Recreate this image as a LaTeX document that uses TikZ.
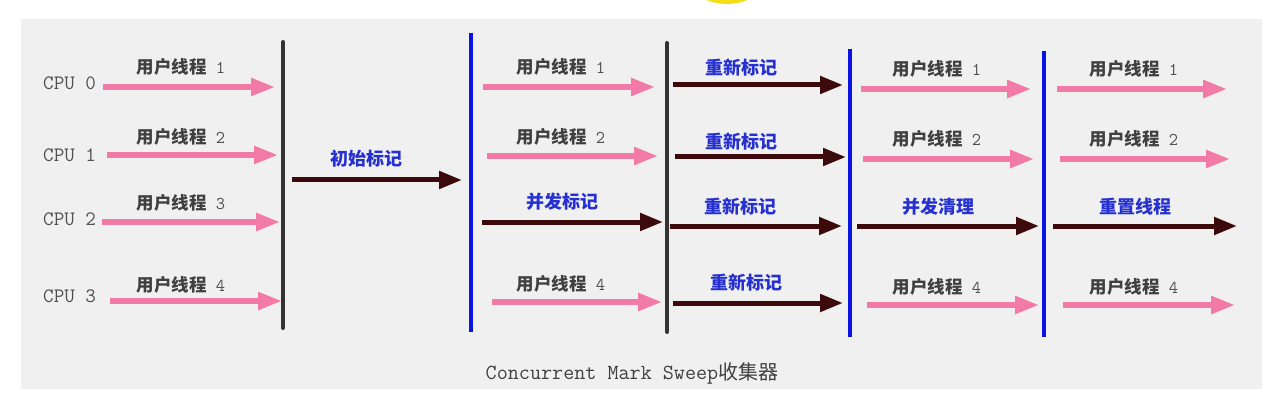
\documentclass[tikz,border=0pt]{standalone}
\usepackage{fontspec}
\usetikzlibrary{arrows.meta}
\newfontfamily\cjk{Noto Sans CJK SC}
\newfontfamily\mono{Latin Modern Mono}
\definecolor{bgc}{HTML}{EFF0EF}
\definecolor{pinkc}{HTML}{F27AA6}
\definecolor{darkc}{HTML}{3C0A0A}
\definecolor{barg}{HTML}{333333}
\definecolor{barb}{HTML}{0A14E0}
\definecolor{labc}{HTML}{404040}
\definecolor{digc}{HTML}{505050}
\definecolor{bluet}{HTML}{2630D0}
\definecolor{yelc}{HTML}{F5DE1A}
\tikzset{
  pinkarrow/.style={draw=pinkc, line width=5.5pt, -{Triangle[length=24pt,width=17pt]}},
  darkarrow/.style={draw=darkc, line width=5pt, -{Triangle[length=23pt,width=17pt]}},
  graybar/.style={draw=barg, line width=4pt, line cap=round},
  bluebar/.style={draw=barb, line width=4.5pt},
  ulabel/.style={text=labc, inner sep=0pt, font=\fontsize{17.5}{20}\selectfont},
  blabel/.style={text=bluet, inner sep=0pt, font=\cjk\bfseries\fontsize{18}{20}\selectfont},
  cpulabel/.style={text=digc, inner sep=0pt, anchor=west, font=\mono\fontsize{20.5}{22}\selectfont}
}
\newcommand{\ut}[1]{{\cjk\bfseries 用户线程}\hspace{9pt}{\mono\color{digc}\fontsize{18}{18}\selectfont #1}}
\begin{document}
\begin{tikzpicture}[x=1pt,y=-1pt]
\useasboundingbox (0,0) rectangle (1267,401);
\fill[white] (0,0) rectangle (1267,401);
\fill[bgc] (21,19) rectangle (1262,389);
\fill[yelc] (727,-50) circle (54);
% bars
\foreach \n/\xx/\ya/\yb/\st in {b1/283/42/328/graybar, b2/471/33/332/bluebar, b3/667/43/332/graybar, b4/850/49/337/bluebar, b5/1044/51/337/bluebar}{
  \coordinate (\n t) at (\xx,\ya);
  \coordinate (\n b) at (\xx,\yb);
  \draw[\st] (\n t) -- (\n b);
}
% arrows
\foreach \n/\xa/\xb/\yy/\st in {
  c1r0/103/275/87/pinkarrow, c1r1/107/278/155/pinkarrow, c1r2/102/280/222/pinkarrow, c1r3/110/282/301/pinkarrow,
  c2/292/462/180/darkarrow,
  c3r0/483/655/87/pinkarrow, c3r1/487/658/156/pinkarrow, c3r2/482/663/222/darkarrow, c3r3/492/662/302/pinkarrow,
  c4r0/673/843/85/darkarrow, c4r1/675/846/157/darkarrow, c4r2/670/842/226/darkarrow, c4r3/673/843/303/darkarrow,
  c5r0/861/1031/89/pinkarrow, c5r1/863/1034/159/pinkarrow, c5r2/857/1039/226/darkarrow, c5r3/867/1039/305/pinkarrow,
  c6r0/1057/1227/89/pinkarrow, c6r1/1060/1230/159/pinkarrow, c6r2/1053/1237/226/darkarrow, c6r3/1063/1235/305/pinkarrow}{
  \coordinate (\n s) at (\xa,\yy);
  \coordinate (\n e) at (\xb,\yy);
  \draw[\st] (\n s) -- (\n e);
}
% CPU labels
\node[cpulabel] (cpu0) at (43,83) {CPU 0};
\node[cpulabel] (cpu1) at (43,155) {CPU 1};
\node[cpulabel] (cpu2) at (43,219) {CPU 2};
\node[cpulabel] (cpu3) at (43,296) {CPU 3};
% user thread labels
\node[ulabel] (u10) at (181,67) {\ut{1}};
\node[ulabel] (u11) at (181,137) {\ut{2}};
\node[ulabel] (u12) at (181,203) {\ut{3}};
\node[ulabel] (u13) at (181,285) {\ut{4}};
\node[ulabel] (u30) at (561,67) {\ut{1}};
\node[ulabel] (u31) at (561,137) {\ut{2}};
\node[ulabel] (u33) at (561,284) {\ut{4}};
\node[ulabel] (u50) at (937,69) {\ut{1}};
\node[ulabel] (u51) at (937,139) {\ut{2}};
\node[ulabel] (u53) at (937,287) {\ut{4}};
\node[ulabel] (u60) at (1134,69) {\ut{1}};
\node[ulabel] (u61) at (1134,139) {\ut{2}};
\node[ulabel] (u63) at (1134,287) {\ut{4}};
% blue labels
\node[blabel] (l2) at (366,159) {初始标记};
\node[blabel] (l3) at (562,202) {并发标记};
\node[blabel] (l40) at (741,68) {重新标记};
\node[blabel] (l41) at (741,142) {重新标记};
\node[blabel] (l42) at (740,207) {重新标记};
\node[blabel] (l43) at (746,283) {重新标记};
\node[blabel] (l5) at (938,207) {并发清理};
\node[blabel] (l6) at (1135,207) {重置线程};
% caption
\node[text=labc, inner sep=0pt] (cap) at (632,373) {{\mono\fontsize{21.5}{22}\selectfont Concurrent Mark Sweep}{\cjk\fontsize{20}{22}\selectfont 收集器}};
\end{tikzpicture}
\end{document}
